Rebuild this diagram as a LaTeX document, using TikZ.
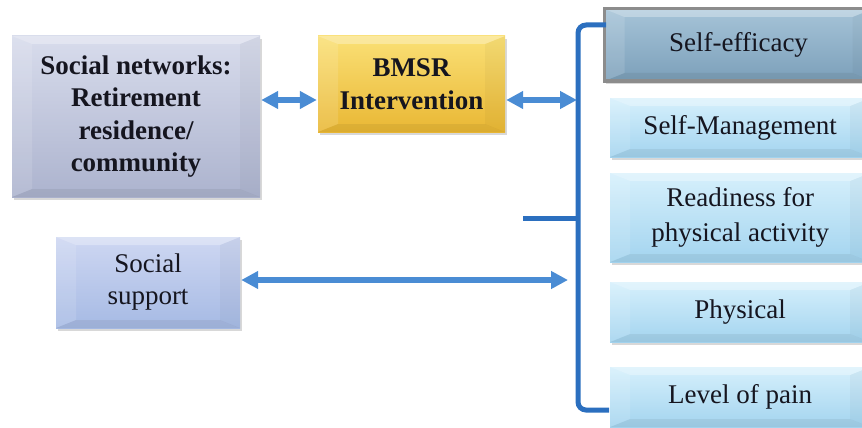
\documentclass[tikz,border=0pt]{standalone}
\usepackage{fontspec}
\setmainfont{Liberation Serif}
\usetikzlibrary{arrows.meta,shadows}
\definecolor{linkblue}{HTML}{4A8CD4}
\definecolor{bracketblue}{HTML}{2B6FBF}
\definecolor{txt}{HTML}{15151F}
\definecolor{outtop}{HTML}{D6F0FC}
\definecolor{outbot}{HTML}{A3D4EF}
\tikzset{
  bevel/.style={path picture={
    \fill[white, opacity=0.3] (path picture bounding box.north west) -- (path picture bounding box.north east)
      -- ([xshift=-20pt,yshift=-8pt]path picture bounding box.north east) -- ([xshift=20pt,yshift=-8pt]path picture bounding box.north west) -- cycle;
    \fill[white, opacity=0.12] (path picture bounding box.north west) -- ([xshift=20pt,yshift=-8pt]path picture bounding box.north west)
      -- ([xshift=20pt,yshift=8pt]path picture bounding box.south west) -- (path picture bounding box.south west) -- cycle;
    \fill[black, opacity=0.06] (path picture bounding box.south west) -- (path picture bounding box.south east)
      -- ([xshift=-20pt,yshift=8pt]path picture bounding box.south east) -- ([xshift=20pt,yshift=8pt]path picture bounding box.south west) -- cycle;
    \fill[black, opacity=0.03] (path picture bounding box.north east) -- ([xshift=-20pt,yshift=-8pt]path picture bounding box.north east)
      -- ([xshift=-20pt,yshift=8pt]path picture bounding box.south east) -- (path picture bounding box.south east) -- cycle;
  }},
  box/.style={inner sep=2pt, align=center, text=txt, bevel,
    font=\fontsize{27}{32}\selectfont,
    drop shadow={opacity=0.3, shadow xshift=1.5pt, shadow yshift=-3pt}},
  outbox/.style={box, top color=outtop, bottom color=outbot,
    minimum width=260pt, anchor=west},
  link/.style={<->, >={Triangle[length=17pt,width=17pt]}, line width=6pt,
    color=linkblue, shorten <=1pt, shorten >=1pt},
}
\begin{document}
\begin{tikzpicture}[x=1pt,y=-1pt]
	\useasboundingbox[fill=white] (0,0) rectangle (862,428);
	% left column
	\node[box, top color={rgb,255:red,216;green,220;blue,236}, bottom color={rgb,255:red,172;green,179;blue,206},
	  minimum width=248pt, minimum height=161pt, font=\bfseries\fontsize{27}{32.5}\selectfont] (net) at (136,116.5)
	  {Social networks:\\Retirement\\residence/\\community};
	\node[box, top color={rgb,255:red,250;green,224;blue,118}, bottom color={rgb,255:red,233;green,183;blue,52},
	  minimum width=187pt, minimum height=96pt, font=\bfseries\fontsize{27}{33}\selectfont] (bmsr) at (411.5,84)
	  {BMSR\\Intervention};
	\node[box, top color={rgb,255:red,206;green,215;blue,242}, bottom color={rgb,255:red,166;green,186;blue,228},
	  minimum width=184pt, minimum height=91pt] (supp) at (148,282.5) {Social\\support};
	% outcomes
	\node[box, top color={rgb,255:red,166;green,196;blue,216}, bottom color={rgb,255:red,124;green,160;blue,186},
	  draw={rgb,255:red,140;green,140;blue,140}, line width=3pt, anchor=west,
	  minimum width=268pt, minimum height=72pt] (eff) at (603,45) {Self-efficacy};
	\node[outbox, minimum height=59pt] (mgmt) at (610,127.5) {Self-Management};
	\node[outbox, minimum height=89pt, font=\fontsize{27}{35}\selectfont] (ready) at (610,217.5)
	  {Readiness for\\physical activity};
	\node[outbox, minimum height=60pt] (phys) at (610,312) {Physical};
	\node[outbox, minimum height=60pt] (pain) at (610,397) {Level of pain};
	% bracket
	\coordinate (brtop) at (606,25);
	\coordinate (brbot) at (609,410);
	\coordinate (brtip) at (523,218);
	\coordinate (brmid) at (578,100);
	\coordinate (sstip) at (569,280);
	\draw[bracketblue, line width=5pt, rounded corners=8pt]
	  (brtop) -- (578,25) -- (578,410) -- (brbot);
	\draw[bracketblue, line width=5pt] (brtip) -- (578,218);
	% links
	\draw[link] (net.east |- brmid) -- (bmsr.west |- brmid);
	\draw[link] (bmsr.east |- brmid) -- (brmid);
	\draw[link] (supp.east |- sstip) -- (sstip);
\end{tikzpicture}
\end{document}
